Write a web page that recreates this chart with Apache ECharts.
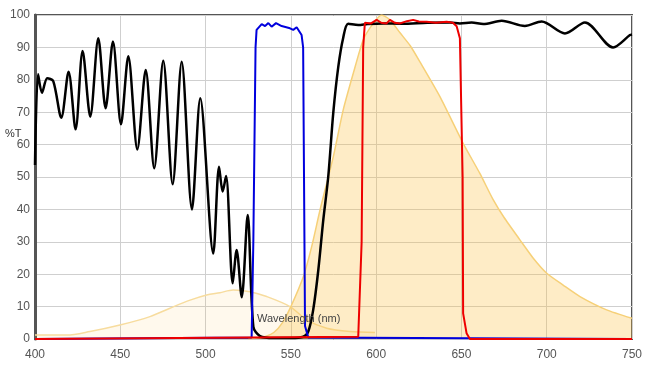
<!DOCTYPE html>
<html>
<head>
<meta charset="utf-8">
<script src="https://cdn.jsdelivr.net/npm/echarts@6/dist/echarts.min.js"></script>
<style>
html,body{margin:0;padding:0;background:#fff;}
#chart{width:657px;height:374px;}
</style>
</head>
<body>
<div id="chart"></div>
<script>
// Tick labels
var xTicks = [400, 450, 500, 550, 600, 650, 700, 750];
var yTicks = [0, 10, 20, 30, 40, 50, 60, 70, 80, 90, 100];

// Excitation spectrum (pale)
var excX = [400, 418.6, 432.2, 449.8, 467.4, 479.1, 490.9, 500.6, 508.4, 516.2, 526, 535.8, 549.5, 559.3, 571, 584.6, 599.3];
var excY = [1.2, 1.2, 2.3, 4.3, 6.9, 9.5, 12, 13.6, 14.3, 15.1, 14.6, 13.1, 10, 5.9, 3.3, 2.3, 2];

// Emission spectrum (orange)
var emX = [525, 535, 540, 545, 550, 557.3, 562.2, 567.1, 574.9, 580.7, 586.6, 592.4, 598.3, 603.2, 608.1, 614, 620, 625.7, 637.4, 651, 660.8, 668.6, 675, 684.3, 692, 700, 710, 719.5, 735.1, 750];
var emY = [0, 0.8, 2, 5, 10, 19.2, 28.5, 39.8, 56.3, 70.7, 82, 92.3, 97.4, 100, 98.5, 94.5, 90.5, 85.5, 74.8, 60.4, 51.1, 43, 37.5, 30.6, 25, 20.3, 16.5, 13.1, 9.0, 6.4];

// Dichroic (black)
var diX = [400, 401.8, 404.1, 407.2, 410.7, 415.4, 419.7, 423.8, 427.9, 432.4, 437.1, 441.4, 445.7, 450.4, 454.7, 460, 464.9, 469.9, 475.2, 480.7, 486, 492, 496.9, 504.5, 507.9, 510, 512, 515.9, 518.2, 521.2, 524.7, 528, 531.9, 540, 550, 557.3, 560.2, 563.1, 566.1, 569, 571.9, 574.9, 577.8, 580.7, 583.6, 589.5, 595, 604.2, 615, 630, 643.3, 649.1, 656, 662.8, 673.6, 687.2, 697, 710.7, 722.4, 738.9, 748.8, 750];
var diY = [53.7, 81.7, 76, 80.5, 79.6, 68.3, 82.5, 64.7, 88.9, 68.6, 92.8, 71.2, 91.8, 66.3, 87.3, 58.5, 83, 52.7, 85.9, 47.8, 85.6, 40, 74.3, 26.4, 53.2, 45.5, 50.3, 17.2, 27.5, 12.9, 38.3, 3.8, 0.9, 0.3, 0.3, 0.7, 2.3, 9, 21.3, 36.7, 50, 70, 84, 93, 97.3, 96.9, 97.2, 97.4, 97.3, 97.6, 97.7, 97.4, 97.7, 97.2, 98.2, 96.6, 98, 94.3, 97.7, 90, 93.8, 94];

// Excitation filter (blue)
var bpBlueX = [400, 527, 528, 529.3, 529.9, 532.9, 534.9, 536.8, 538.7, 541.3, 544.6, 549.5, 551.4, 553.4, 556.3, 557.2, 558.3, 560.2, 750];
var bpBlueY = [0, 0.5, 30, 90, 95.4, 97.2, 96.6, 97.5, 96.4, 97.5, 96.6, 95.9, 95.4, 96.2, 93.8, 90, 4, 0.5, 0];

// Emission filter (red)
var bpRedX = [400, 589.5, 591.5, 592.4, 593.4, 597, 600.3, 603, 606.1, 608.1, 611, 614, 618, 621.7, 625, 629.6, 635, 641.3, 645, 647.2, 649.1, 650.1, 650.7, 651, 653, 655, 750];
var bpRedY = [0, 0.7, 30, 90, 97.6, 97.4, 98.5, 97.6, 97.4, 98.5, 97.6, 97.4, 98.1, 98.5, 98.0, 97.9, 97.6, 97.9, 97.6, 96.5, 92.8, 92.3, 50, 7.9, 1.8, 0, 0];

function pairs(xs, ys) { return xs.map(function (x, i) { return [x, ys[i]]; }); }

var chart = echarts.init(document.getElementById('chart'), null, {renderer: 'canvas'});
var font = 'Arial, "Liberation Sans", sans-serif';
chart.setOption({
  animation: false,
  backgroundColor: '#fff',
  grid: {left: 35, right: 25, top: 15, bottom: 35, show: true, borderColor: '#555', borderWidth: 2, backgroundColor: 'transparent'},
  xAxis: {
    type: 'value', min: xTicks[0], max: xTicks[xTicks.length - 1], interval: 50,
    axisLine: {show: false},
    axisTick: {show: false},
    axisLabel: {color: '#555', fontSize: 12, fontFamily: font, margin: 10},
    splitLine: {show: true, lineStyle: {color: '#cfcfcf', width: 1}}
  },
  yAxis: {
    type: 'value', min: yTicks[0], max: yTicks[yTicks.length - 1], interval: 10,
    axisLine: {show: true, lineStyle: {color: '#555', width: 3}},
    axisTick: {show: false},
    axisLabel: {color: '#555', fontSize: 12, fontFamily: font, margin: 5},
    splitLine: {show: true, lineStyle: {color: '#cfcfcf', width: 1}}
  },
  graphic: [
    {type: 'text', left: 5, top: 128, style: {text: '%T', fill: '#333', font: '11px ' + font}},
    {type: 'text', left: 257, top: 313, z: 100, style: {text: 'Wavelength (nm)', fill: '#444', font: '11px ' + font}}
  ],
  series: [
    {type: 'line', data: pairs(excX, excY), showSymbol: false, smooth: 0.3, z: 1,
      lineStyle: {color: '#f7dc9e', width: 1.5}, areaStyle: {color: 'rgba(252,190,60,0.13)'}},
    {type: 'line', data: pairs(emX, emY), showSymbol: false, smooth: 0.2, z: 2,
      lineStyle: {color: '#f6d078', width: 1.5}, areaStyle: {color: 'rgba(252,190,60,0.42)'}},
    {type: 'line', data: pairs(diX, diY), showSymbol: false, smooth: 0.3, z: 3,
      lineStyle: {color: '#000', width: 2.5}},
    {type: 'line', data: pairs(bpBlueX, bpBlueY), showSymbol: false, z: 4,
      lineStyle: {color: '#0000dd', width: 2}},
    {type: 'line', data: pairs(bpRedX, bpRedY), showSymbol: false, z: 5,
      lineStyle: {color: '#ee0000', width: 2}}
  ]
});
</script>
</body>
</html>
